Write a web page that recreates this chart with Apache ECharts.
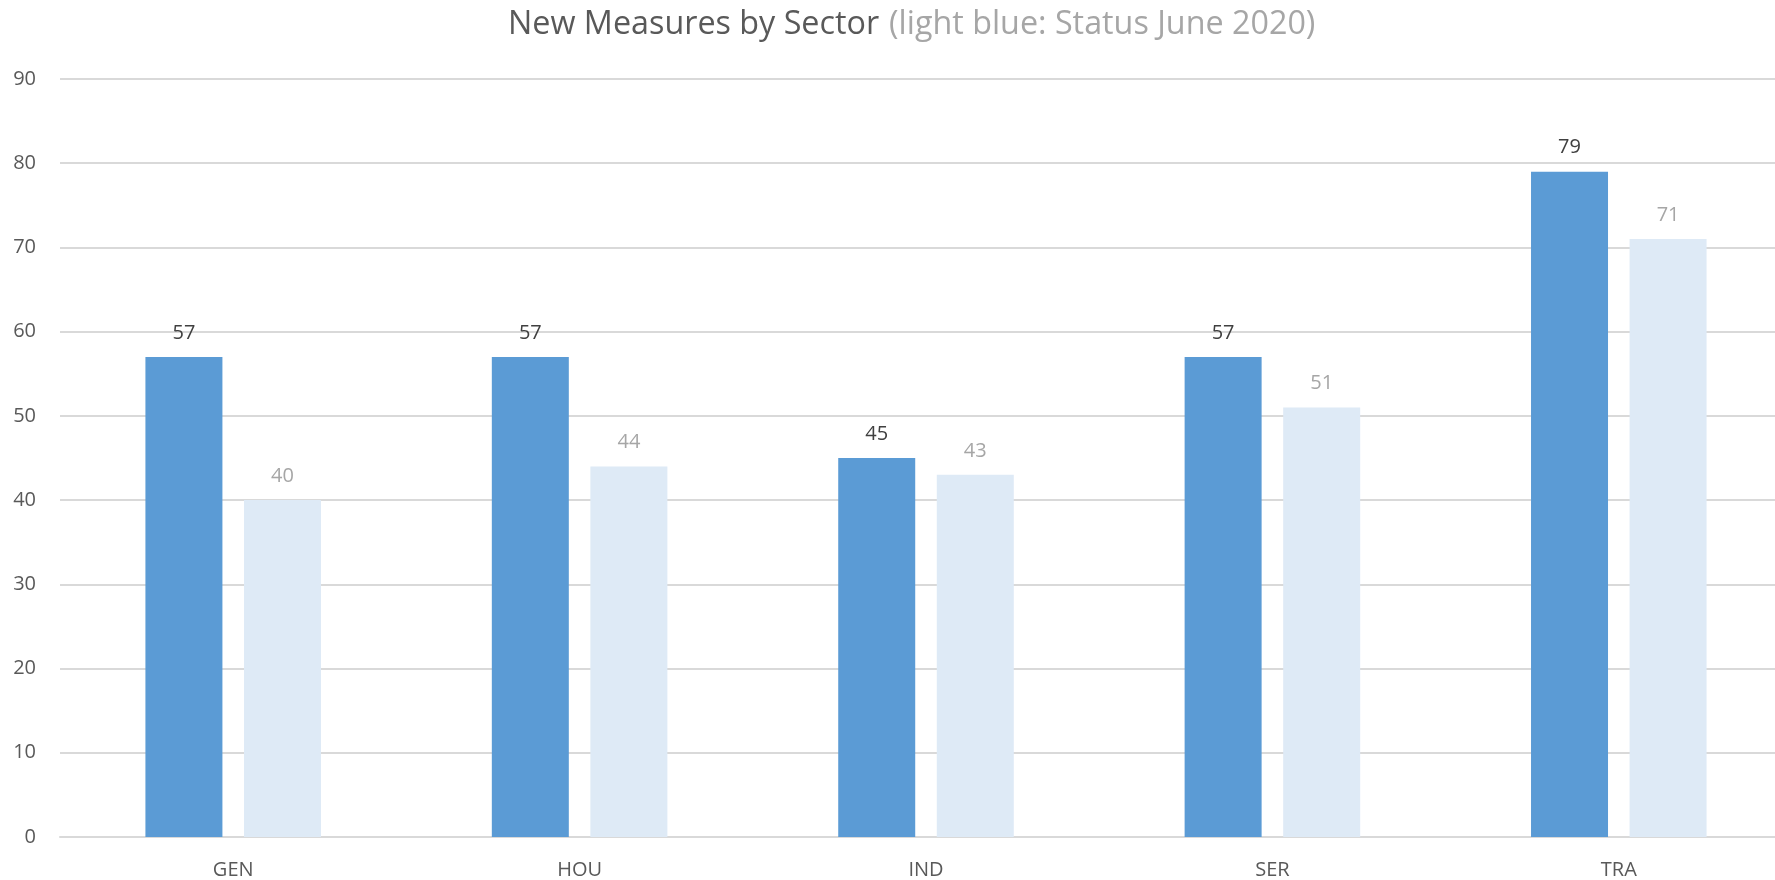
<!DOCTYPE html>
<html>
<head>
<meta charset="utf-8">
<script src="https://cdn.jsdelivr.net/npm/echarts@6/dist/echarts.min.js"></script>
<style>
html,body{margin:0;padding:0;background:#fff;overflow:hidden;width:1775px;height:880px;}
#chart{width:1792px;height:880px;}
</style>
</head>
<body>
<div id="chart"></div>
<script>
const categories = ['GEN', 'HOU', 'IND', 'SER', 'TRA'];
const current = [57, 57, 45, 57, 79];
const june2020 = [40, 44, 43, 51, 71];
const yTicks = [0, 10, 20, 30, 40, 50, 60, 70, 80, 90];

const FONT = '"Open Sans", sans-serif';
const chart = echarts.init(document.getElementById('chart'));
chart.setOption({
  animation: false,
  backgroundColor: '#ffffff',
  title: {
    text: '{a|New Measures by Sector} {b|(light blue: Status June 2020)}',
    left: 503,
    top: 4,
    textStyle: {
      fontWeight: 'normal',
      rich: {
        a: { fontFamily: FONT, fontSize: 32.3, fontWeight: 'normal', color: '#595959' },
        b: { fontFamily: FONT, fontSize: 32.3, fontWeight: 'normal', color: '#A6A6A6', padding: [0, 0, 0, 5] }
      }
    }
  },
  grid: { left: 60, right: 0, top: 79, bottom: 43, containLabel: false },
  xAxis: {
    type: 'category',
    data: categories,
    axisLine: { show: true, lineStyle: { color: '#D9D9D9', width: 2 } },
    axisTick: { show: false },
    axisLabel: { color: '#595959', fontFamily: FONT, fontSize: 20, margin: 23 }
  },
  yAxis: {
    type: 'value',
    min: yTicks[0],
    max: yTicks[yTicks.length - 1],
    interval: 10,
    axisLine: { show: false },
    axisTick: { show: false },
    splitLine: { lineStyle: { color: '#D9D9D9', width: 2 } },
    axisLabel: { color: '#595959', fontFamily: FONT, fontSize: 20, margin: 24 }
  },
  series: [
    {
      type: 'bar',
      data: current,
      barWidth: 77,
      barGap: '28%',
      itemStyle: { color: '#5B9BD5' },
      label: { show: true, position: 'top', distance: 14, color: '#404040', fontFamily: FONT, fontSize: 20 }
    },
    {
      type: 'bar',
      data: june2020,
      barWidth: 77,
      itemStyle: { color: '#DEEAF6' },
      label: { show: true, position: 'top', distance: 14, color: '#A6A6A6', fontFamily: FONT, fontSize: 20 }
    }
  ]
});
</script>
</body>
</html>
